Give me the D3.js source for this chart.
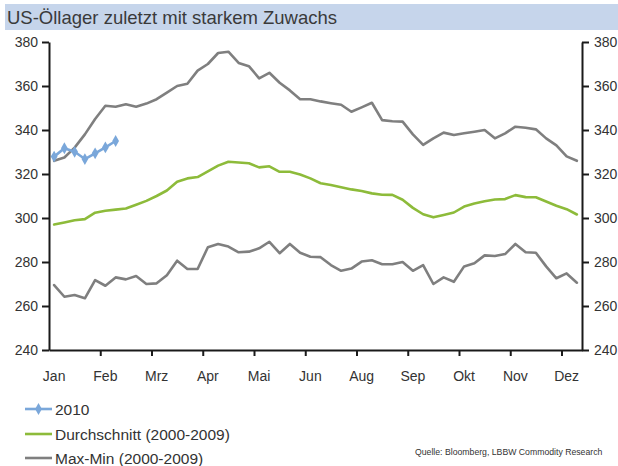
<!DOCTYPE html>
<html>
<head>
<meta charset="utf-8">
<script src="https://cdn.jsdelivr.net/npm/d3@7"></script>
<style>
  html, body { margin: 0; padding: 0; background: #fff; }
  svg { display: block; font-family: "Liberation Sans", Arial, sans-serif; }
</style>
</head>
<body>
<svg id="chart" width="618" height="466"></svg>
<script>
// ---- data ----
const title = "US-Öllager zuletzt mit starkem Zuwachs";
const weeks = d3.range(1, 53);
const monthLabels = ["Jan","Feb","Mrz","Apr","Mai","Jun","Aug","Sep","Okt","Nov","Dez"];
const yTicks = [240, 260, 280, 300, 320, 340, 360, 380];
const vals2010 = [327.9, 331.7, 330.1, 326.8, 329.4, 332.1, 335];
const avgVals = [297,298,299,299.5,302.4,303.3,303.8,304.3,306,307.8,
  310,312.5,316.5,318,318.6,321.2,323.8,325.6,325.2,324.9,
  323,323.5,321,321,319.8,318,315.8,315,314,313,
  312.3,311.2,310.6,310.5,308.3,304.6,301.7,300.3,301.4,302.5,
  305.2,306.6,307.6,308.4,308.6,310.4,309.5,309.4,307.5,305.6,
  304,301.6];
const maxVals = [326,327.5,332,338,345,351,350.6,351.7,350.6,352,
  354,357,360,361,367,370,375,375.6,370.5,369,
  363.5,366,361.5,358,354,354,353,352.2,351.5,348.3,
  350.3,352.4,344.5,344,343.8,338,333.2,336.2,338.8,337.7,
  338.5,339.2,340,336.2,338.5,341.5,341,340.3,336.2,333,
  328,326];
const minVals = [269.5,264.2,265,263.5,271.8,269.2,273,272.1,273.6,270,
  270.3,274,280.6,276.8,276.8,286.7,288.2,287,284.4,284.7,
  286.2,289.2,284,288.2,284.2,282.4,282.2,278.6,276,277,
  280.2,280.8,279,279,280,276,278.6,270,273,271,
  278,279.4,283,282.7,283.6,288.2,284.4,284.2,278,272.6,
  274.8,270.6];
const legendLabels = ["2010", "Durchschnitt (2000-2009)", "Max-Min (2000-2009)"];
const source = "Quelle: Bloomberg, LBBW Commodity Research";

// ---- styles ----
const C_BLUE = "#7aa7da", C_GREEN = "#8dbb3a", C_GREY = "#7f7f7f", C_TEXT = "#333333";

const svg = d3.select("#chart");
const L = 49, R = 582, T = 42, B = 350;

// title bar
svg.append("rect").attr("x", 5).attr("y", 4).attr("width", 613).attr("height", 26).attr("fill", "#c6d5eb");
svg.append("text").attr("x", 7).attr("y", 23.5).attr("font-size", 18.5).attr("fill", "#3a3a3a").text(title);

const x = d3.scaleBand().domain(weeks).range([L, R]).paddingInner(0).paddingOuter(0);
const xb = d3.scaleLinear().domain([0, weeks.length]).range([L, R]);
const y = d3.scaleLinear().domain([240, 380]).range([B, T]);
const cx = i => x(weeks[i]) + x.bandwidth() / 2;

const line = d3.line().x((d, i) => cx(i)).y(d => y(d));

function drawLine(vals, color) {
  svg.append("path").datum(vals).attr("d", line)
    .attr("fill", "none").attr("stroke", color).attr("stroke-width", 2.6)
    .attr("stroke-linejoin", "round").attr("stroke-linecap", "round");
}
drawLine(minVals, C_GREY);
drawLine(maxVals, C_GREY);
drawLine(avgVals, C_GREEN);
drawLine(vals2010, C_BLUE);
svg.append("g").selectAll("path").data(vals2010).join("path")
  .attr("d", d3.symbol(d3.symbolDiamond, 40))
  .attr("transform", (d, i) => `translate(${cx(i)},${y(d)})`)
  .attr("fill", C_BLUE);

// axes
function styleAxis(g) {
  g.selectAll(".domain").attr("stroke", "#1a1a1a").attr("stroke-width", 2);
  g.selectAll(".tick line").attr("stroke", "#1a1a1a").attr("stroke-width", 2);
  g.selectAll("text").attr("fill", C_TEXT).attr("font-size", 14)
    .attr("font-family", "'Liberation Sans', Arial, sans-serif");
}
const gl = svg.append("g").attr("transform", `translate(${L},0)`)
  .call(d3.axisLeft(y).tickValues(yTicks).tickSize(7).tickSizeOuter(0).tickPadding(4));
styleAxis(gl);
const gr = svg.append("g").attr("transform", `translate(${R},0)`)
  .call(d3.axisRight(y).tickValues(yTicks).tickSize(7).tickSizeOuter(0).tickPadding(5));
styleAxis(gr);
const gxt = svg.append("g").attr("transform", `translate(0,${B})`)
  .call(d3.axisBottom(xb).tickValues(d3.range(5, 51, 5)).tickSize(6).tickSizeOuter(0).tickFormat(""));
styleAxis(gxt);
const labelWeeks = monthLabels.map((m, k) => weeks[k * 5]);
const gxl = svg.append("g").attr("transform", `translate(0,${B})`)
  .call(d3.axisBottom(x).tickValues(labelWeeks).tickSize(0).tickPadding(21)
    .tickFormat((d, k) => monthLabels[k]));
gxl.select(".domain").remove();
styleAxis(gxl);

// legend
const lg = svg.append("g");
const rowsY = [409, 434, 458];
const colors = [C_BLUE, C_GREEN, C_GREY];
legendLabels.forEach((t, k) => {
  lg.append("line").attr("x1", 25).attr("x2", 52).attr("y1", rowsY[k]).attr("y2", rowsY[k])
    .attr("stroke", colors[k]).attr("stroke-width", 2.6);
  if (k === 0) lg.append("path").attr("d", d3.symbol(d3.symbolDiamond, 40))
    .attr("transform", `translate(38.5,${rowsY[k]})`).attr("fill", C_BLUE);
  lg.append("text").attr("x", 55).attr("y", rowsY[k] + 5.5).attr("font-size", 15.5)
    .attr("fill", C_TEXT).text(t);
});
svg.append("text").attr("x", 415).attr("y", 455).attr("font-size", 8.7).attr("fill", C_TEXT).text(source);
</script>
</body>
</html>
